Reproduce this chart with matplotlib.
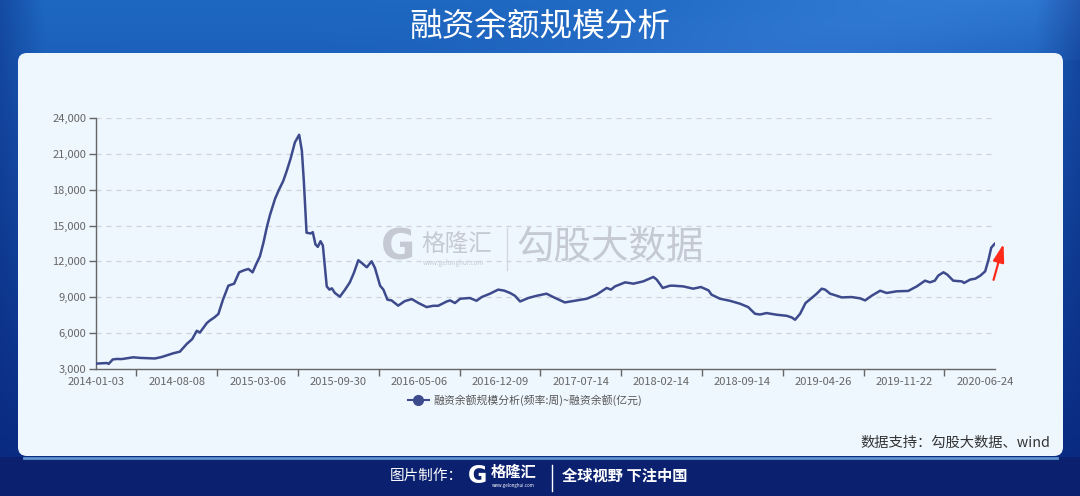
import numpy as np
import pandas as pd
import matplotlib
matplotlib.use('Agg')
import matplotlib.pyplot as plt
import matplotlib.transforms as mtransforms
from matplotlib.patches import FancyBboxPatch
from matplotlib.lines import Line2D

plt.rcParams['font.family'] = ['Noto Sans CJK SC', 'DejaVu Sans']

# x-axis labels (category axis, evenly spaced)
label_dates = ['2014-01-03', '2014-08-08', '2015-03-06', '2015-09-30', '2016-05-06',
               '2016-12-09', '2017-07-14', '2018-02-14', '2018-09-14', '2019-04-26',
               '2019-11-22', '2020-06-24']

# 融资余额(亿元)
dates = ['2014-01-03', '2014-01-16', '2014-02-01', '2014-02-06', '2014-02-17', '2014-02-28',
         '2014-03-13', '2014-03-27', '2014-04-13', '2014-05-01', '2014-05-23', '2014-06-10',
         '2014-06-28', '2014-07-13', '2014-07-30', '2014-08-16', '2014-09-03', '2014-09-17',
         '2014-09-29', '2014-10-07', '2014-10-25', '2014-11-02', '2014-11-13', '2014-11-24',
         '2014-12-06', '2014-12-20', '2015-01-04', '2015-01-17', '2015-01-29', '2015-02-10',
         '2015-02-21', '2015-03-03', '2015-03-12', '2015-03-21', '2015-03-30', '2015-04-07',
         '2015-04-20', '2015-04-30', '2015-05-11', '2015-05-20', '2015-05-30', '2015-06-10',
         '2015-06-21', '2015-06-28', '2015-07-03', '2015-07-10', '2015-07-21', '2015-07-26',
         '2015-08-02', '2015-08-08', '2015-08-15', '2015-08-21', '2015-08-31', '2015-09-07',
         '2015-09-13', '2015-09-21', '2015-10-04', '2015-10-18', '2015-10-31', '2015-11-11',
         '2015-11-23', '2015-12-02', '2015-12-16', '2015-12-29', '2016-01-07', '2016-01-21',
         '2016-01-30', '2016-02-10', '2016-02-21', '2016-03-10', '2016-03-28', '2016-04-16',
         '2016-05-04', '2016-05-26', '2016-06-13', '2016-06-26', '2016-07-19', '2016-07-28',
         '2016-08-10', '2016-08-24', '2016-09-19', '2016-10-07', '2016-10-21', '2016-11-12',
         '2016-12-04', '2016-12-20', '2017-01-05', '2017-01-18', '2017-02-01', '2017-02-23',
         '2017-03-18', '2017-04-13', '2017-05-01', '2017-06-01', '2017-07-03', '2017-07-30',
         '2017-08-25', '2017-09-21', '2017-10-02', '2017-10-13', '2017-11-09', '2017-12-01',
         '2017-12-27', '2018-01-23', '2018-02-01', '2018-02-17', '2018-03-08', '2018-03-17',
         '2018-04-12', '2018-05-08', '2018-05-28', '2018-06-17', '2018-06-25', '2018-07-17',
         '2018-08-12', '2018-09-08', '2018-09-30', '2018-10-19', '2018-11-02', '2018-11-20',
         '2018-12-18', '2019-01-15', '2019-01-29', '2019-02-07', '2019-02-21', '2019-03-08',
         '2019-03-25', '2019-04-08', '2019-04-22', '2019-05-01', '2019-05-14', '2019-05-31',
         '2019-06-13', '2019-07-09', '2019-07-31', '2019-08-13', '2019-08-30', '2019-09-21',
         '2019-10-08', '2019-11-03', '2019-12-03', '2019-12-26', '2020-01-17', '2020-01-30',
         '2020-02-12', '2020-02-21', '2020-03-06', '2020-03-16', '2020-04-01', '2020-04-24',
         '2020-04-30', '2020-05-16', '2020-05-30', '2020-06-12', '2020-06-25', '2020-07-04',
         '2020-07-11', '2020-07-20']
balance = [3450, 3470, 3500, 3430, 3800, 3840,
           3830, 3900, 3980, 3930, 3900, 3880,
           4000, 4150, 4320, 4450, 5100, 5500,
           6200, 6050, 6840, 7060, 7300, 7600,
           8800, 9970, 10140, 11090, 11250, 11370,
           11090, 11820, 12430, 13560, 14900, 15900,
           17250, 18000, 18730, 19570, 20610, 21960,
           22600, 21250, 18730, 14400, 14340, 14450,
           13420, 13220, 13690, 13330, 9910, 9640,
           9750, 9360, 9050, 9640, 10250, 11040,
           12100, 11880, 11510, 12010, 11460, 9970,
           9640, 8800, 8740, 8300, 8680, 8850,
           8520, 8180, 8290, 8290, 8650, 8740,
           8520, 8880, 8940, 8710, 9020, 9300,
           9640, 9560, 9360, 9130, 8650, 8940,
           9130, 9300, 9020, 8570, 8740, 8880,
           9220, 9780, 9640, 9910, 10250, 10140,
           10330, 10700, 10480, 9780, 9970, 9970,
           9910, 9720, 9860, 9580, 9220, 8880,
           8710, 8460, 8180, 7620, 7560, 7680,
           7540, 7450, 7310, 7120, 7620, 8520,
           8940, 9300, 9720, 9640, 9300, 9130,
           8990, 9020, 8910, 8740, 9130, 9550,
           9360, 9500, 9530, 9910, 10390, 10250,
           10390, 10810, 11090, 10900, 10390, 10330,
           10200, 10480, 10560, 10810, 11170, 12160,
           13140, 13470]

yticks = list(range(3000, 24001, 3000))

W, H = 1080, 496
LINE = '#3d4b8c'
WM = '#c4c9d3'


def to_pos(d):
    # category axis: evenly spaced labels, linear in time between them
    n = (pd.to_datetime(d) - pd.Timestamp(label_dates[0])).days.values.astype(float)
    ln = (pd.to_datetime(label_dates) - pd.Timestamp(label_dates[0])).days.values.astype(float)
    idx = np.arange(len(ln))
    p = np.interp(n, ln, idx)
    far = n > ln[-1]
    p[far] = idx[-1] + (n[far] - ln[-1]) / (ln[-1] - ln[-2])
    return p


fig = plt.figure(figsize=(W / 100, H / 100), dpi=100)

# background: blue gradient, panel, footer
bg = fig.add_axes([0, 0, 1, 1])
bg.set_axis_off()
yy, xx = np.mgrid[0:H, 0:W]
t = np.clip(yy / 457, 0, 1)[..., None]
top = np.array([30, 104, 194]) / 255
bot = np.array([10, 44, 132]) / 255
img = top * (1 - t) + bot * t
edge = np.clip(1 - np.minimum(xx, W - 1 - xx) / 45, 0, 1)[..., None] * 0.45
img = img * (1 - edge) + np.array([10, 40, 125]) / 255 * edge
streak = np.exp(-((xx * 0.35 + yy - 330) / 90.0) ** 2)[..., None] * 0.07 * (yy < 60)[..., None]
img = np.clip(img + streak, 0, 1)
img[457:] = np.array([11, 33, 112]) / 255
bg.imshow(img, extent=[0, W, H, 0], aspect='auto', zorder=0)
bg.set_xlim(0, W)
bg.set_ylim(H, 0)

bg.add_patch(FancyBboxPatch((18, 53), 1045, 403, boxstyle='round,pad=0,rounding_size=9',
                            fc='#eef6fe', ec='none', zorder=1))
bg.plot([24, 1057], [457.5, 457.5], color='#5d93cf', lw=2, zorder=1)

bg.text(540, 27, '融资余额规模分析', ha='center', va='center', fontsize=23.5,
        color='white', fontweight='light', zorder=2)

# watermark
bg.text(398, 248, 'G', ha='center', va='center', fontsize=30, fontweight='bold',
        color=WM, family='DejaVu Sans', zorder=2)
bg.text(421, 244, '格隆汇', ha='left', va='center', fontsize=17, color=WM, zorder=2)
bg.text(423, 263, 'www.gelonghui.com', ha='left', va='center', fontsize=4.5,
        color=WM, zorder=2)
bg.plot([507, 507], [228, 270], color='#d3d8e0', lw=1, zorder=2)
bg.text(516, 248, '勾股大数据', ha='left', va='center', fontsize=27, color=WM, zorder=2)

bg.text(1050, 443, '数据支持：勾股大数据、wind', ha='right', va='center',
        fontsize=10.3, color='#333333', zorder=2)

# footer
bg.text(390, 476, '图片制作：', ha='left', va='center', fontsize=10.5, color='white', zorder=2)
bg.text(478, 476, 'G', ha='center', va='center', fontsize=17, fontweight='bold',
        color='white', family='DejaVu Sans', zorder=2)
bg.text(491, 472, '格隆汇', ha='left', va='center', fontsize=11, fontweight='bold',
        color='white', zorder=2)
bg.text(492, 485, 'www.gelonghui.com', ha='left', va='center', fontsize=3.2,
        color='white', zorder=2)
bg.plot([552, 552], [465, 491], color='white', lw=1, zorder=2)
bg.text(562, 476, '全球视野 下注中国', ha='left', va='center', fontsize=11,
        fontweight='bold', color='white', zorder=2)

# chart
ax = fig.add_axes([96 / W, 1 - 369 / H, (995 - 96) / W, (369 - 118) / H])
ax.patch.set_alpha(0)

pos = to_pos(dates)
ax.plot(pos, balance, color=LINE, lw=1.8, solid_joinstyle='round', zorder=3)

ax.set_xlim(0, (995 - 96) / 80.8)
ax.set_ylim(yticks[0], yticks[-1])
ax.set_yticks(yticks)
ax.set_yticklabels([f'{v:,}' for v in yticks])
ax.set_xticks(np.arange(len(label_dates)))
ax.set_xticklabels(label_dates)
ax.set_xticks(np.arange(len(label_dates) - 1) + 0.5, minor=True)
ax.tick_params(axis='x', which='major', length=0, pad=6, labelsize=8, labelcolor='#666666')
ax.tick_params(axis='x', which='minor', length=5, color='#666666', width=1)
ax.tick_params(axis='y', length=5, color='#666666', width=1, pad=2,
               labelsize=8, labelcolor='#666666')
ax.grid(axis='y', color='#cfd4db', lw=0.9, linestyle=(0, (4, 4)))
ax.set_axisbelow(True)
for s in ['top', 'right']:
    ax.spines[s].set_visible(False)
for s in ['left', 'bottom']:
    ax.spines[s].set_color('#666666')
    ax.spines[s].set_linewidth(1)

# red arrow next to the last point
tip = mtransforms.offset_copy(ax.transData, fig=fig, x=9, y=0, units='dots')
ax.annotate('', xy=(pos[-1], balance[-1]), xycoords=tip,
            xytext=(-10, -36), textcoords='offset pixels',
            arrowprops=dict(arrowstyle='-|>,head_length=0.9,head_width=0.28',
                            color='#ff2a1a', lw=1.6, mutation_scale=12,
                            shrinkA=0, shrinkB=0), annotation_clip=False)

handle = Line2D([], [], color=LINE, lw=1.5, marker='o', markersize=7)
fig.legend([handle], ['融资余额规模分析(频率:周)~融资余额(亿元)'], loc='center',
           bbox_to_anchor=(525 / W, 1 - 400 / H), frameon=False, fontsize=7.8,
           labelcolor='#555555', handlelength=2.0, handletextpad=0.4)

fig.savefig('out.png', dpi=100)
